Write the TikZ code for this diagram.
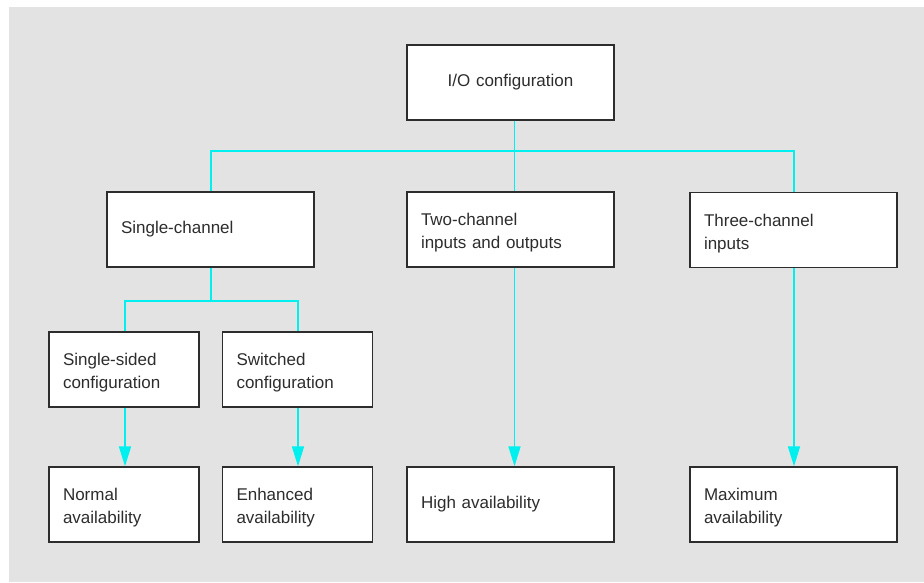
\documentclass[tikz,border=0pt]{standalone}
\usepackage{fontspec}
\setmainfont{Liberation Sans}
\usetikzlibrary{arrows.meta}
\definecolor{bg}{RGB}{227,227,227}
\definecolor{wire}{RGB}{0,240,240}
\definecolor{ink}{RGB}{45,45,45}
\tikzset{
  box/.style={draw=ink, line width=1.3pt, fill=white, text=ink, font=\fontsize{17}{23}\selectfont,
    align=left, inner xsep=14pt, inner ysep=0pt, minimum height=75pt, anchor=center},
  two lines/.style={text depth=19.5pt},
  wbox/.style={box, text width=179pt},
  nbox/.style={box, text width=122pt},
  link/.style={draw=wire, line width=1.7pt},
  arr/.style={link, -{Triangle[length=20pt,width=12pt]}}
}
\begin{document}
\begin{tikzpicture}[x=1pt,y=-1pt]
\useasboundingbox (0,0) rectangle (924,582);
\fill[bg] (9,7) rectangle (924,582);
\node[box, text width=179pt, align=center] (io) at (510.5,82.5) {I/O configuration};
\node[wbox] (sc) at (210.5,229.5) {Single-channel};
\node[wbox, two lines] (two) at (510.5,229.5) {Two-channel\\inputs and outputs};
\node[wbox, two lines] (three) at (793.5,230) {Three-channel\\inputs};
\node[nbox, two lines] (ss) at (124,369.5) {Single-sided\\configuration};
\node[nbox, two lines] (sw) at (297.5,369.5) {Switched\\configuration};
\node[nbox, two lines] (nor) at (124,504.5) {Normal\\availability};
\node[nbox, two lines] (enh) at (297.5,504.5) {Enhanced\\availability};
\node[wbox] (high) at (510.5,504.5) {High availability};
\node[wbox, two lines] (max) at (793.5,504.5) {Maximum\\availability};
% connector x positions
\coordinate (xm) at (514.5,0);
\coordinate (xsc) at (211,0);
\coordinate (xth) at (794,0);
\coordinate (xss) at (125,0);
\coordinate (xsw) at (298,0);
\coordinate (j1) at (514.5,151);
\coordinate (j2) at (211,301);
\draw[link] (io.south -| xm) -- (two.north -| xm);
\draw[link] (sc.north -| xsc) |- (j1) -| (three.north -| xth);
\draw[link] (sc.south -| xsc) -- (j2);
\draw[link] (ss.north -| xss) |- (j2) -| (sw.north -| xsw);
\draw[arr] (ss.south -| xss) -- (nor.north -| xss);
\draw[arr] (sw.south -| xsw) -- (enh.north -| xsw);
\draw[arr] (two.south -| xm) -- (high.north -| xm);
\draw[arr] (three.south -| xth) -- (max.north -| xth);
\end{tikzpicture}
\end{document}
